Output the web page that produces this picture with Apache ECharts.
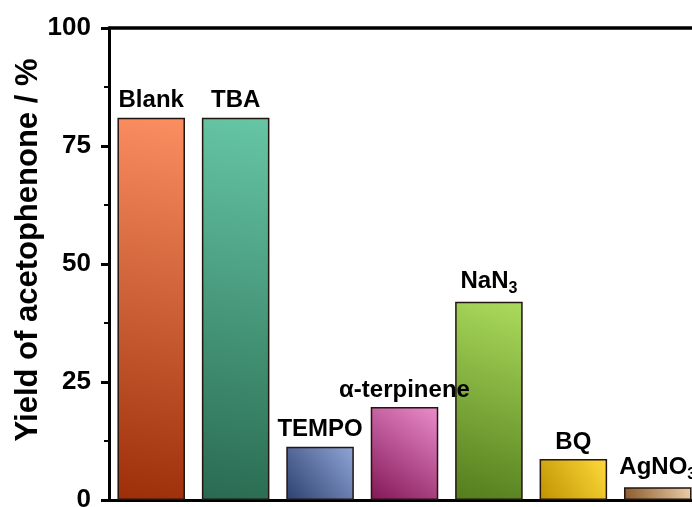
<!DOCTYPE html>
<html>
<head>
<meta charset="utf-8">
<script src="https://cdn.jsdelivr.net/npm/echarts@6/dist/echarts.min.js"></script>
<style>
  html, body { margin: 0; padding: 0; background: #fff; }
  #chart { width: 692px; height: 507px; }
</style>
</head>
<body>
<div id="chart"></div>
<script>
const categories = ['Blank', 'TBA', 'TEMPO', 'α-terpinene', 'NaN3', 'BQ', 'AgNO3'];
const yields = [81.0, 81.0, 11.3, 19.7, 42.0, 8.7, 2.7];
const yTicks = [0, 25, 50, 75, 100];

// dark (bottom-left) and light (top-right) end of each bar's gradient
const darkColors = ['#9c2f08', '#296b52', '#2d4170', '#831657', '#537c1c', '#bf9200', '#8a5a2b'];
const lightColors = ['#fb8f62', '#66c6a6', '#90a6d6', '#eb8dcb', '#abdb5c', '#ffda3c', '#ebcfa9'];

// labels with subscript digits
const labelText = {
  'NaN3': '{b|NaN}{s|3}',
  'AgNO3': '{b|AgNO}{s|3}'
};

const font = 'Liberation Sans, Arial';
const myChart = echarts.init(document.getElementById('chart'));

myChart.setOption({
  animation: false,
  grid: { left: 109, width: 591, top: 28, bottom: 7, outerBoundsMode: 'none', containLabel: false },
  xAxis: [
    {
      type: 'category',
      data: categories,
      axisLine: { lineStyle: { color: '#000', width: 3 } },
      axisTick: { show: false },
      axisLabel: { show: false }
    },
    {
      type: 'category',
      position: 'top',
      data: categories,
      axisLine: { onZero: false, lineStyle: { color: '#000', width: 3.5 } },
      axisTick: { show: false },
      axisLabel: { show: false }
    }
  ],
  yAxis: {
    type: 'value',
    min: yTicks[0],
    max: yTicks[yTicks.length - 1],
    interval: 25,
    name: 'Yield of acetophenone / %',
    nameLocation: 'middle',
    nameGap: 65,
    nameMoveOverlap: false,
    nameTextStyle: {
      fontFamily: font,
      fontWeight: 'bold',
      fontSize: 31,
      color: '#000',
      padding: [0, 0, 0, 28]
    },
    axisLine: { show: true, lineStyle: { color: '#000', width: 3 } },
    axisTick: { show: true, length: 8, lineStyle: { color: '#000', width: 3 } },
    minorTick: { show: true, splitNumber: 2, length: 5, lineStyle: { color: '#000', width: 2 } },
    splitLine: { show: false },
    axisLabel: {
      margin: 18,
      fontFamily: font,
      fontWeight: 'bold',
      fontSize: 26,
      color: '#000'
    }
  },
  series: [
    {
      type: 'bar',
      xAxisIndex: 0,
      barWidth: '80%',
      data: yields.map((v, i) => ({
        value: v,
        itemStyle: {
          color: new echarts.graphic.LinearGradient(0, 1, 1, 0, [
            { offset: 0, color: darkColors[i] },
            { offset: 1, color: lightColors[i] }
          ]),
          borderColor: '#231510',
          borderWidth: 1.5
        }
      })),
      label: {
        show: true,
        position: 'top',
        distance: 5,
        formatter: p => labelText[p.name] || '{b|' + p.name + '}',
        rich: {
          b: { fontFamily: font, fontWeight: 'bold', fontSize: 24, color: '#000' },
          s: { fontFamily: font, fontWeight: 'bold', fontSize: 16, color: '#000', verticalAlign: 'bottom', padding: [14, 0, 0, 0] }
        }
      }
    }
  ]
});
</script>
</body>
</html>
